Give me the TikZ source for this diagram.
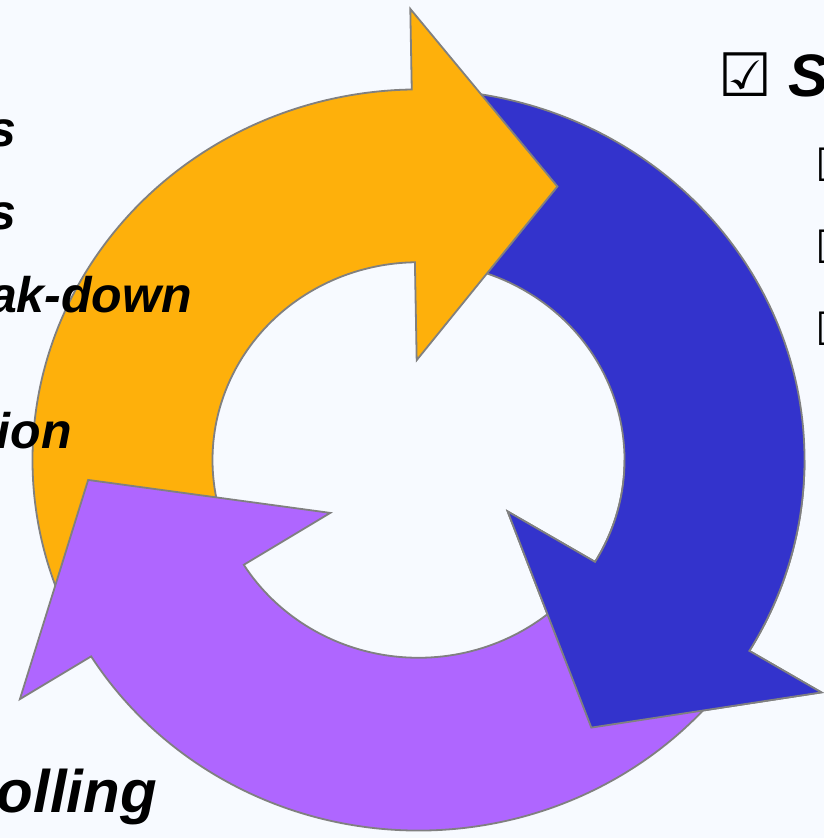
\documentclass[tikz,border=0pt]{standalone}
\usepackage{fontspec}
\setmainfont{Liberation Sans}
\newfontfamily\symfont{DejaVu Sans}
\usetikzlibrary{positioning}

\definecolor{bgcol}{HTML}{F7FAFF}
\definecolor{orangearr}{HTML}{FEB00B}
\definecolor{bluearr}{HTML}{3333CC}
\definecolor{purplearr}{HTML}{AF66FF}

% tail angle, head base angle, head span, tip radius
\newcommand{\cyclearrow}[4]{(#1:386) arc[start angle=#1, end angle=#2, radius=386]
  -- (#2:470) -- ({#2-#3}:#4) -- (#2:104) -- (#2:206)
  arc[start angle=#2, end angle=#1, radius=206] -- cycle}

\begin{document}
\begin{tikzpicture}[x=1pt, y=1pt,
  every node/.style={inner sep=0pt, font=\bfseries\itshape},
  arr/.style={draw=gray, line width=1.8pt, line join=miter},
  lbl/.style={anchor=base east, font=\fontsize{50}{54}\selectfont\bfseries\itshape},
  chk/.style={anchor=west, font=\symfont\bfseries\fontsize{46}{50}\selectfont},
]
\useasboundingbox[fill=bgcol] (-418.5,-378) rectangle (405.5,460);

\begin{scope}[yscale=0.96]
  \path[arr, fill=bluearr]   \cyclearrow{84.5}{-31}{27.2}{328};
  \path[arr, fill=orangearr] \cyclearrow{205}{91}{27}{317};
  \path[arr, fill=purplearr] \cyclearrow{323.5}{212}{28.4}{331};
  \begin{scope}
    \clip (-500,0) rectangle (500,-600);
    \path[arr, fill=bluearr] \cyclearrow{84.5}{-31}{27.2}{328};
  \end{scope}
\end{scope}

\node[lbl] (t1) at (-401.5,313) {s};
\node[lbl] (t2) at (-401.5,230) {s};
\node[lbl] (t3) at (-226.5,147) {ak-down};
\node[lbl] (t4) at (-346.5,12)  {ion};
\node[lbl, font=\fontsize{60}{64}\selectfont\bfseries\itshape] (t5) at (-261.5,-352) {olling};

\node[anchor=base west, font=\fontsize{60}{64}\selectfont\bfseries\itshape] (hd) at (299.5,363)
  {{\symfont\bfseries ☑} S};
\node[chk] (c1) at (396.5,295) {☑};
\node[chk, below=82pt of c1.west, anchor=west] (c2) {☑};
\node[chk, below=82pt of c2.west, anchor=west] (c3) {☑};
\end{tikzpicture}
\end{document}
